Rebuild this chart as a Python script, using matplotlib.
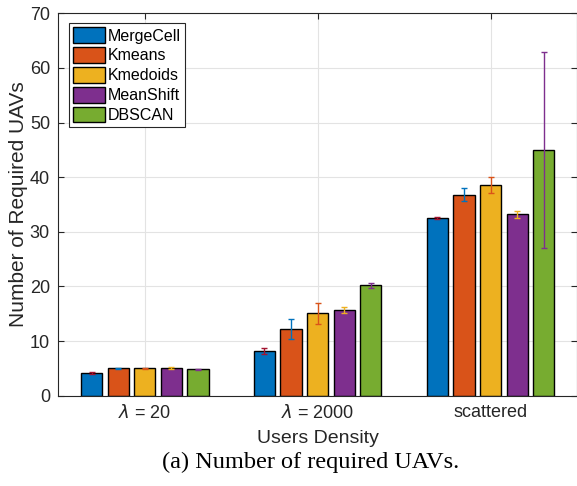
import numpy as np
import matplotlib
matplotlib.use('Agg')
import matplotlib.pyplot as plt

# data
groups = ['$\\lambda$ = 20', '$\\lambda$ = 2000', 'scattered']
methods = ['MergeCell', 'Kmeans', 'Kmedoids', 'MeanShift', 'DBSCAN']
mergecell = [4.2, 8.2, 32.6]
kmeans = [5.0, 12.2, 36.8]
kmedoids = [5.0, 15.05, 38.6]
meanshift = [5.0, 15.65, 33.2]
dbscan = [4.8, 20.2, 45.0]
mergecell_err = [0.15, 0.5, 0.2]
kmeans_err = [0.15, 1.75, 1.2]
kmedoids_err = [0.15, 1.85, 1.5]
meanshift_err = [0.2, 0.55, 0.6]
dbscan_err = [0.1, 0.5, 18.0]

values = [mergecell, kmeans, kmedoids, meanshift, dbscan]
errors = [mergecell_err, kmeans_err, kmedoids_err, meanshift_err, dbscan_err]

bar_colors = ['#0072BD', '#D95319', '#EDB120', '#7E2F8E', '#77AC30']
# error bars use the colour order shifted by one (MATLAB style)
err_colors = ['#A2142F', '#0072BD', '#D95319', '#EDB120', '#7E2F8E']

plt.rcParams['font.family'] = ['Liberation Sans', 'DejaVu Sans']
plt.rcParams['mathtext.fontset'] = 'custom'
plt.rcParams['mathtext.it'] = 'DejaVu Sans:italic'

fig = plt.figure(figsize=(5.77, 4.86), dpi=100)
ax = fig.add_axes([58.3 / 577, 1 - 395.7 / 486, (577 - 58.3) / 577, (395.7 - 13.3) / 486])

x = np.arange(1, len(groups) + 1)
n = len(methods)
step = 0.769 / n
width = 0.8 * step

for i in range(n):
    pos = x + (i - (n - 1) / 2) * step
    ax.bar(pos, values[i], width, color=bar_colors[i], edgecolor='black',
           linewidth=1.0, label=methods[i], zorder=2)
    ax.errorbar(pos, values[i], yerr=errors[i], fmt='none', ecolor=err_colors[i],
                elinewidth=1.0, capsize=2.5, capthick=1.0, zorder=3)

ax.set_xlim(0.5, 3.5)
ax.set_ylim(0, 70)
ax.set_xticks(x)
ax.set_xticklabels(groups)
ax.set_yticks(np.arange(0, 71, 10))
ax.set_axisbelow(True)
ax.grid(True, color='#e3e3e3', linewidth=0.8)
ax.tick_params(direction='in', top=True, right=True, length=4, width=0.8,
               labelsize=13, colors='#262626', pad=6)
for s in ax.spines.values():
    s.set_color('#262626')
    s.set_linewidth(0.8)

ax.set_ylabel('Number of Required UAVs', fontsize=15, color='#262626', labelpad=1)
ax.set_xlabel('Users Density', fontsize=14, color='#262626', labelpad=6)

leg = ax.legend(loc='upper left', bbox_to_anchor=(0.02, 0.974), fontsize=11.5,
                fancybox=False, edgecolor='#262626', framealpha=1,
                handlelength=2.0, handleheight=1.15, handletextpad=0.2,
                labelspacing=0.22, borderpad=0.25, borderaxespad=0)
leg.get_frame().set_linewidth(0.8)

fig.text(311 / 577, 1 - 462 / 486, '(a) Number of required UAVs.', ha='center',
         va='center', fontsize=17.5, family='Liberation Serif')

fig.savefig('out.png', dpi=100)
